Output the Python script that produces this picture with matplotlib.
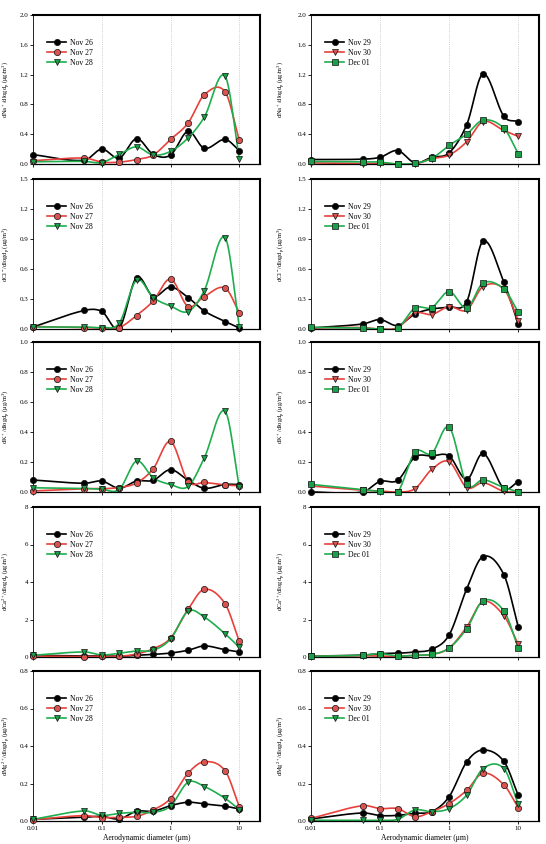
import numpy as np
import matplotlib
matplotlib.use('Agg')
import matplotlib.pyplot as plt
from matplotlib.ticker import FixedLocator, FixedFormatter, FormatStrFormatter, MultipleLocator

plt.rcParams.update({
    'font.family': ['Liberation Serif', 'DejaVu Serif'],
    'mathtext.default': 'regular',
    'font.size': 5,
    'axes.linewidth': 0.7,
})

# aerodynamic cut diameters (um)
diam = [0.01, 0.056, 0.1, 0.18, 0.32, 0.56, 1.0, 1.8, 3.1, 6.2, 10]

# Na+
na_nov26 = [0.125, 0.05, 0.20, 0.08, 0.34, 0.13, 0.12, 0.44, 0.21, 0.33, 0.18]
na_nov27 = [0.045, 0.08, 0.025, 0.025, 0.06, 0.12, 0.33, 0.55, 0.93, 0.97, 0.32]
na_nov28 = [0.03, 0.035, 0.02, 0.13, 0.23, 0.12, 0.17, 0.35, 0.63, 1.18, 0.07]
na_nov29 = [0.06, 0.065, 0.09, 0.18, 0.015, 0.09, 0.15, 0.53, 1.21, 0.64, 0.57]
na_nov30 = [0.015, 0.005, 0.01, 0.0, 0.0, 0.07, 0.12, 0.30, 0.57, 0.45, 0.37]
na_dec01 = [0.035, 0.03, 0.025, 0.0, 0.01, 0.075, 0.25, 0.40, 0.59, 0.48, 0.14]

# Cl-
cl_nov26 = [0.02, 0.186, 0.176, 0.01, 0.515, 0.325, 0.42, 0.315, 0.18, 0.075, 0.01]
cl_nov27 = [0.025, 0.015, 0.01, 0.015, 0.135, 0.28, 0.50, 0.225, 0.325, 0.41, 0.165]
cl_nov28 = [0.02, 0.02, 0.015, 0.06, 0.49, 0.315, 0.23, 0.175, 0.385, 0.915, 0.025]
cl_nov29 = [0.01, 0.05, 0.094, 0.035, 0.15, 0.20, 0.22, 0.275, 0.88, 0.47, 0.05]
cl_nov30 = [0.01, 0.015, 0.0, 0.015, 0.16, 0.145, 0.225, 0.19, 0.425, 0.40, 0.085]
cl_dec01 = [0.017, 0.01, 0.0, 0.01, 0.21, 0.215, 0.375, 0.21, 0.46, 0.40, 0.17]

# K+
k_nov26 = [0.08, 0.058, 0.073, 0.025, 0.073, 0.078, 0.149, 0.078, 0.025, 0.05, 0.05]
k_nov27 = [0.007, 0.022, 0.022, 0.03, 0.06, 0.155, 0.337, 0.07, 0.064, 0.047, 0.042]
k_nov28 = [0.028, 0.024, 0.018, 0.018, 0.206, 0.095, 0.05, 0.037, 0.228, 0.539, 0.033]
k_nov29 = [0.0, 0.0, 0.071, 0.078, 0.233, 0.24, 0.24, 0.084, 0.257, 0.024, 0.069]
k_nov30 = [0.04, 0.011, 0.007, 0.0, 0.022, 0.151, 0.202, 0.029, 0.062, 0.004, 0.0]
k_dec01 = [0.051, 0.016, 0.004, 0.0, 0.266, 0.257, 0.432, 0.051, 0.082, 0.029, 0.002]

# Ca2+
ca_nov26 = [0.09, 0.05, 0.07, 0.04, 0.09, 0.14, 0.21, 0.36, 0.59, 0.39, 0.27]
ca_nov27 = [0.05, 0.02, 0.05, 0.04, 0.16, 0.44, 1.01, 2.54, 3.61, 2.84, 0.84]
ca_nov28 = [0.09, 0.27, 0.11, 0.20, 0.32, 0.36, 0.96, 2.45, 2.13, 1.24, 0.52]
ca_nov29 = [0.05, 0.10, 0.18, 0.20, 0.27, 0.41, 1.18, 3.64, 5.36, 4.39, 1.61]
ca_nov30 = [0.04, 0.07, 0.04, 0.04, 0.09, 0.13, 0.48, 1.61, 2.96, 2.20, 0.68]
ca_dec01 = [0.04, 0.09, 0.18, 0.05, 0.09, 0.14, 0.48, 1.52, 3.00, 2.46, 0.50]

# Mg2+
mg_nov26 = [0.009, 0.02, 0.025, 0.011, 0.052, 0.052, 0.082, 0.10, 0.091, 0.079, 0.064]
mg_nov27 = [0.007, 0.029, 0.018, 0.02, 0.025, 0.059, 0.12, 0.255, 0.316, 0.268, 0.077]
mg_nov28 = [0.009, 0.054, 0.03, 0.041, 0.046, 0.046, 0.08, 0.207, 0.184, 0.121, 0.061]
mg_nov29 = [0.011, 0.043, 0.029, 0.03, 0.041, 0.05, 0.13, 0.316, 0.379, 0.318, 0.138]
mg_nov30 = [0.014, 0.082, 0.066, 0.066, 0.023, 0.05, 0.093, 0.164, 0.255, 0.193, 0.071]
mg_dec01 = [0.004, 0.004, 0.004, 0.009, 0.059, 0.05, 0.066, 0.139, 0.28, 0.28, 0.089]

labels_left = ['Nov 26', 'Nov 27', 'Nov 28']
labels_right = ['Nov 29', 'Nov 30', 'Dec 01']

ylabels = [r'dNa$^+$/dlogd$_p$ (μg/m$^3$)',
           r'dCl$^-$/dlogd$_p$ (μg/m$^3$)',
           r'dK$^+$/dlogd$_p$ (μg/m$^3$)',
           r'dCa$^{2+}$/dlogd$_p$ (μg/m$^3$)',
           r'dMg$^{2+}$/dlogd$_p$ (μg/m$^3$)']
ymax = [2.0, 1.5, 1.0, 8, 0.8]
ystep = [0.4, 0.3, 0.2, 2, 0.2]
yfmt = ['%.1f', '%.1f', '%.1f', '%d', '%.1f']

left_series = [(na_nov26, na_nov27, na_nov28), (cl_nov26, cl_nov27, cl_nov28),
               (k_nov26, k_nov27, k_nov28), (ca_nov26, ca_nov27, ca_nov28),
               (mg_nov26, mg_nov27, mg_nov28)]
right_series = [(na_nov29, na_nov30, na_dec01), (cl_nov29, cl_nov30, cl_dec01),
                (k_nov29, k_nov30, k_dec01), (ca_nov29, ca_nov30, ca_dec01),
                (mg_nov29, mg_nov30, mg_dec01)]

BLACK = '#000000'
RED = '#e8403a'
GREEN = '#1fae4e'
RED_FACE = '#d9534f'
GREEN_FACE = '#1a9e48'

styles_left = [(BLACK, BLACK, 'o'), (RED, RED_FACE, 'o'), (GREEN, GREEN_FACE, 'v')]
styles_right = [(BLACK, BLACK, 'o'), (RED, RED_FACE, 'v'), (GREEN, GREEN_FACE, 's')]
styles_right_mg = [(BLACK, BLACK, 'o'), (RED, RED_FACE, 'o'), (GREEN, GREEN_FACE, 'v')]


def smooth(x, y, xs):
    """cubic Hermite curve through the points (Catmull-Rom style tangents)"""
    x = np.asarray(x, float)
    y = np.asarray(y, float)
    n = len(x)
    m = np.zeros(n)
    m[0] = (y[1] - y[0]) / (x[1] - x[0])
    m[-1] = (y[-1] - y[-2]) / (x[-1] - x[-2])
    m[1:-1] = (y[2:] - y[:-2]) / (x[2:] - x[:-2])
    idx = np.clip(np.searchsorted(x, xs) - 1, 0, n - 2)
    h = x[idx + 1] - x[idx]
    t = (xs - x[idx]) / h
    h00 = 2 * t ** 3 - 3 * t ** 2 + 1
    h10 = t ** 3 - 2 * t ** 2 + t
    h01 = -2 * t ** 3 + 3 * t ** 2
    h11 = t ** 3 - t ** 2
    return h00 * y[idx] + h10 * h * m[idx] + h01 * y[idx + 1] + h11 * h * m[idx + 1]


W, H = 546, 844
fig = plt.figure(figsize=(W / 100, H / 100), dpi=100)

col_x = [(33, 260), (311, 539)]
row_y = [(15, 164), (179, 329), (342, 492), (507, 657), (671, 821)]

lx = np.log10(diam)
xs_log = np.linspace(lx[0], lx[-1], 400)

for r, (t, b) in enumerate(row_y):
    for c, (l, rr) in enumerate(col_x):
        ax = fig.add_axes([l / W, 1 - b / H, (rr - l) / W, (b - t) / H])
        if c == 0:
            series, labels, styles = left_series[r], labels_left, styles_left
        else:
            series, labels = right_series[r], labels_right
            styles = styles_right_mg if r == 4 else styles_right

        for v in [0.1, 1, 10]:
            ax.axvline(v, color='#b0b0b0', lw=0.5, ls=':', zorder=0)

        for vals, lab, (lc, fc, mk) in zip(series, labels, styles):
            ys = smooth(lx, vals, xs_log)
            ax.plot(10 ** xs_log, ys, color=lc, lw=1.2, zorder=2)
            ax.plot(diam, vals, ls='none', marker=mk, ms=4.5, mfc=fc, mec='#111111',
                    mew=0.5, clip_on=False, zorder=3)
            ax.plot([], [], color=lc, lw=1.2, marker=mk, ms=4.5, mfc=fc,
                    mec='#111111', mew=0.5, label=lab)

        ax.set_xscale('log')
        ax.set_xlim(0.01, 20)
        ax.set_ylim(0, ymax[r])
        ax.yaxis.set_major_locator(MultipleLocator(ystep[r]))
        ax.yaxis.set_major_formatter(FormatStrFormatter(yfmt[r]))
        ax.xaxis.set_major_locator(FixedLocator([0.01, 0.1, 1, 10]))
        ax.xaxis.set_minor_locator(FixedLocator([]))
        if r == 4:
            ax.xaxis.set_major_formatter(FixedFormatter(['0.01', '0.1', '1', '10']))
            ax.set_xlabel('Aerodynamic diameter (μm)', fontsize=5.5, labelpad=2)
        else:
            ax.set_xticklabels([])
        ax.tick_params(direction='out', length=2, width=0.6, labelsize=5, pad=1.5)

        ax.set_ylabel(ylabels[r], fontsize=4.6)
        ax.yaxis.set_label_coords(-0.095 if c == 0 else -0.11, 0.5)

        ax.spines['left'].set_linewidth(0.6)
        ax.spines['bottom'].set_linewidth(0.9)
        ax.spines['top'].set_linewidth(1.5)
        ax.spines['right'].set_linewidth(1.5)

        ax.legend(loc='upper left', bbox_to_anchor=(0.05, 0.86), frameon=False,
                  fontsize=5.5, handlelength=2.4, labelspacing=0.25, handletextpad=0.6,
                  borderaxespad=0)

fig.savefig('out.png', dpi=100)
